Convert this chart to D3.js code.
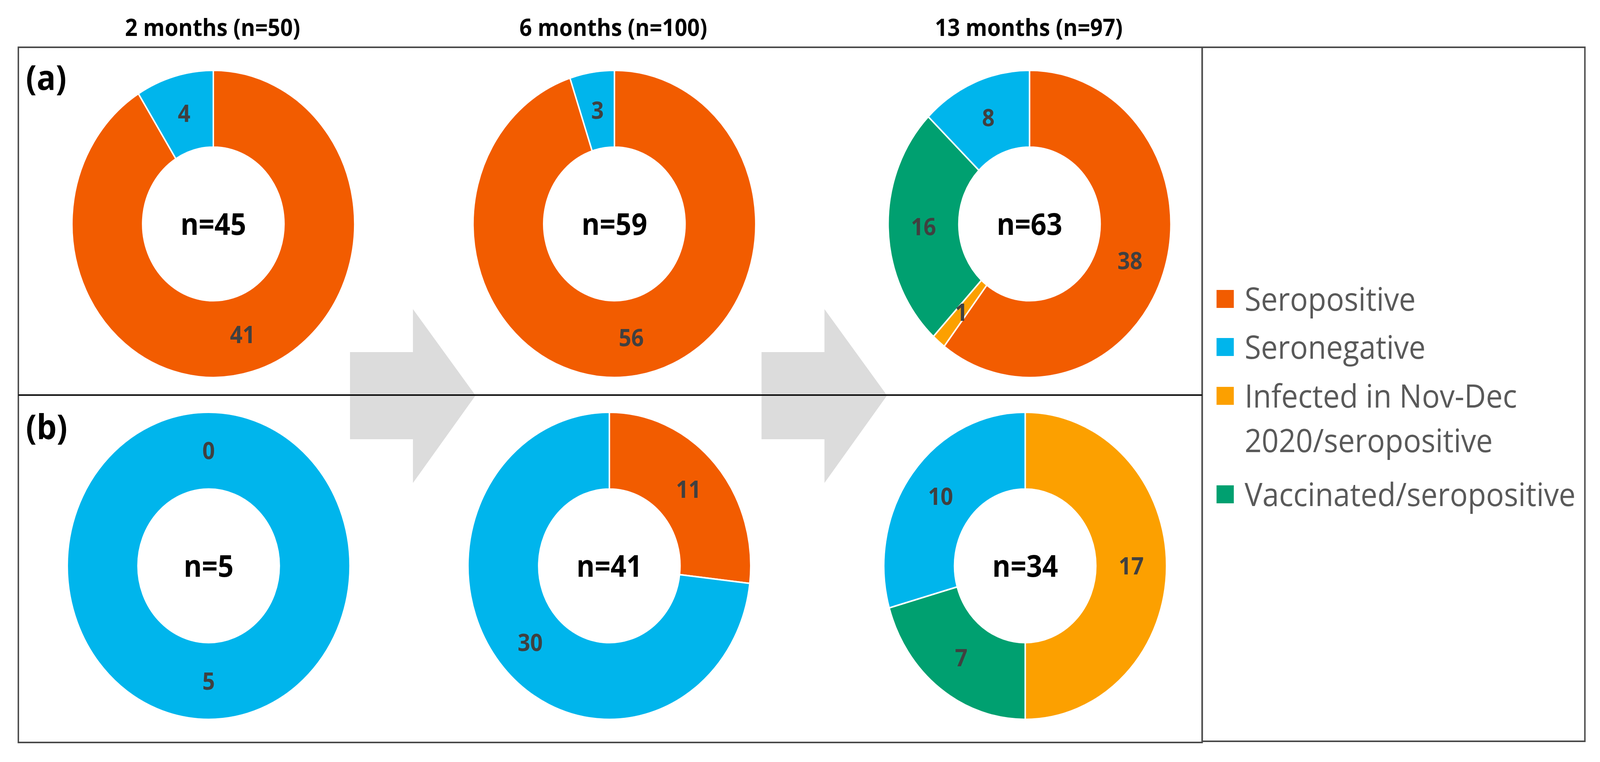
<!DOCTYPE html>
<html>
<head>
<meta charset="utf-8">
<script src="https://cdn.jsdelivr.net/npm/d3@7"></script>
<style>
  body { margin: 0; background: #fff; overflow: hidden; }
  svg { display: block; }
  svg text { font-family: 'Open Sans', Lato, sans-serif; }
</style>
</head>
<body>
<svg id="chart"></svg>
<script>
const size = {w: 4448, h: 1950};

// values
const categories = ['Seropositive', 'Seronegative', 'Infected in Nov-Dec 2020/seropositive', 'Vaccinated/seropositive'];
const colors = ['#F25C00', '#00B5EC', '#FCA000', '#00A070'];
const timepoints = ['2 months (n=50)', '6 months (n=100)', '13 months (n=97)'];
const rowLabels = ['(a)', '(b)'];
// slices run clockwise from 12 o'clock in this order
const sliceOrder = ['Seropositive', 'Infected in Nov-Dec 2020/seropositive', 'Vaccinated/seropositive', 'Seronegative'];
// null = category not part of that donut
const rowA = [[41, null, null, 4], [56, null, null, 3], [38, 1, 16, 8]];
const rowB = [[0, null, null, 5], [11, null, null, 30], [null, 17, 7, 10]];
const centreA = [45, 59, 63];
const centreB = [5, 41, 34];

// layout (in the 4448 x 1950 frame of the original figure)
const box = {x: 51, y: 121, w: 3291, h: 1779};
const legendBox = {x: 3342, y: 121, w: 1064, h: 1776};
const dividerY = 1011;
const colX = [[593, 1708, 2862], [580, 1694, 2850]];
const rowY = [573, 1448];
const titleX = [591, 1705, 2860];
const R = 393;

// the window may be narrower than the figure, so stretch the frame onto it
const svg = d3.select('svg#chart')
    .attr('width', window.innerWidth)
    .attr('height', window.innerHeight)
    .attr('viewBox', `0 0 ${size.w} ${size.h}`)
    .attr('preserveAspectRatio', 'none');

const color = d3.scaleOrdinal(categories, colors);

// grey block arrows between the columns (drawn first, divider goes over them)
const arrowShape = [[0, -111], [175, -111], [175, -221], [349, 0], [175, 224], [175, 112], [0, 112]];
svg.append('g')
    .classed('arrows', true)
    .selectAll('polygon')
    .data([973, 2117])
    .join('polygon')
    .attr('transform', d => `translate(${d}, ${dividerY + 1})`)
    .attr('points', arrowShape.map(p => p.join(',')).join(' '))
    .attr('fill', '#DCDCDC');

// frames
svg.append('rect')
    .attr('x', box.x).attr('y', box.y)
    .attr('width', box.w).attr('height', box.h)
    .attr('fill', 'none')
    .attr('stroke', '#4a4a4a')
    .attr('stroke-width', 4);

svg.append('rect')
    .attr('x', legendBox.x).attr('y', legendBox.y)
    .attr('width', legendBox.w).attr('height', legendBox.h)
    .attr('fill', 'none')
    .attr('stroke', '#4a4a4a')
    .attr('stroke-width', 4);

svg.append('line')
    .attr('x1', box.x).attr('x2', box.x + box.w)
    .attr('y1', dividerY).attr('y2', dividerY)
    .attr('stroke', '#111')
    .attr('stroke-width', 4);

// column titles
svg.append('g')
    .selectAll('text')
    .data(timepoints)
    .join('text')
    .attr('x', (d, i) => titleX[i])
    .attr('y', 92)
    .attr('text-anchor', 'middle')
    .attr('font-weight', 'bold')
    .attr('font-size', 61)
    .attr('fill', '#000')
    .text(d => d);

// (a) / (b)
svg.append('g')
    .selectAll('text')
    .data(rowLabels)
    .join('text')
    .attr('x', 72)
    .attr('y', (d, i) => [230, 1124][i])
    .attr('font-weight', 'bold')
    .attr('font-size', 88)
    .attr('fill', '#000')
    .text(d => d);

const pie = d3.pie()
    .sort(null)
    .value(d => d.value);

const arc = d3.arc()
    .innerRadius(R * 0.5)
    .outerRadius(R);

function donut(values, n, cx, cy) {
    let data = sliceOrder
        .map((key, i) => ({key: key, value: values[i]}))
        .filter(d => d.value !== null);
    let arcs = pie(data);

    let g = svg.append('g')
        .classed('donut', true)
        .attr('transform', `translate(${cx}, ${cy})`);

    g.selectAll('path')
        .data(arcs)
        .join('path')
        .attr('d', arc)
        .attr('fill', d => color(d.data.key))
        .attr('stroke', '#fff')
        .attr('stroke-width', 4);

    g.selectAll('text.value')
        .data(arcs)
        .join('text')
        .classed('value', true)
        .attr('transform', d => `translate(${arc.centroid(d)})`)
        .attr('dy', '0.36em')
        .attr('text-anchor', 'middle')
        .attr('font-weight', 'bold')
        .attr('font-size', 61)
        .attr('fill', '#404040')
        .text(d => d.data.value);

    g.append('text')
        .attr('dy', '0.36em')
        .attr('text-anchor', 'middle')
        .attr('font-weight', 'bold')
        .attr('font-size', 77)
        .attr('fill', '#000')
        .text(`n=${n}`);
}

rowA.forEach((vals, i) => donut(vals, centreA[i], colX[0][i], rowY[0]));
rowB.forEach((vals, i) => donut(vals, centreB[i], colX[1][i], rowY[1]));

// legend
const legendRows = [765, 888, 1013, 1265];
const legend = svg.append('g').classed('legend', true);
categories.forEach((cat, i) => {
    let y = legendRows[i];
    legend.append('rect')
        .attr('x', 3382).attr('y', y - 23)
        .attr('width', 48).attr('height', 46)
        .attr('fill', color(cat));

    let text = legend.append('text')
        .attr('x', 3460)
        .attr('y', y)
        .attr('dy', '0.36em')
        .attr('font-size', 83)
        .attr('fill', '#595959');

    // simple word wrap to the legend width
    let words = cat.split(' ');
    let line = [];
    let tspan = text.append('tspan').attr('x', 3460);
    words.forEach(w => {
        line.push(w);
        tspan.text(line.join(' '));
        if (tspan.node().getComputedTextLength() > 940 && line.length > 1) {
            line.pop();
            tspan.text(line.join(' '));
            line = [w];
            tspan = text.append('tspan')
                .attr('x', 3460)
                .attr('dy', 114)
                .text(w);
        }
    });
});
</script>
</body>
</html>
